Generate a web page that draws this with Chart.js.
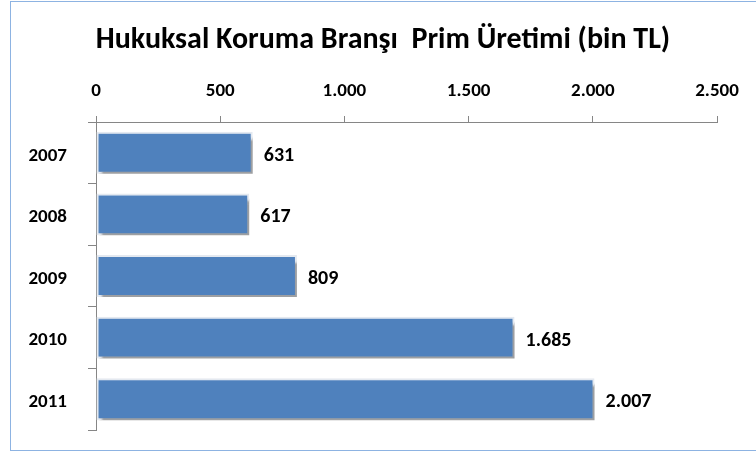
<!DOCTYPE html>
<html>
<head>
<meta charset="utf-8">
<script src="https://cdn.jsdelivr.net/npm/chart.js@4/dist/chart.umd.min.js"></script>
<style>
  html, body { margin: 0; padding: 0; background: #fff; overflow: hidden; }
  #wrap { position: relative; width: 756px; height: 454px; }
  #frame { position: absolute; left: 10px; top: 1px; width: 760px; height: 450px;
           border: 1px solid #8db3e2; box-sizing: border-box; }
  #chart { position: absolute; left: 0; top: 0; }
</style>
</head>
<body>
<div id="wrap">
  <div id="frame"></div>
  <canvas id="chart" width="756" height="454"></canvas>
</div>
<script>
// Hukuksal Koruma branşı prim üretimi, bin TL
const yillar = ['2007', '2008', '2009', '2010', '2011'];
const primUretimi = [631, 617, 809, 1685, 2007];
const eksenMin = 0;
const eksenMax = 2500;
const eksenAdim = 500;

const baslik = 'Hukuksal Koruma Branşı  Prim Üretimi (bin TL)';
const yazi = "Carlito, 'Liberation Sans Narrow', 'Open Sans', sans-serif";

// 1234 -> "1.234"
function binlik(v) {
    return String(Math.round(v)).replace(/\B(?=(\d{3})+(?!\d))/g, '.');
}

// Başlık
const baslikPlugin = {
    id: 'baslik',
    afterDraw(chart) {
        const ctx = chart.ctx;
        ctx.save();
        ctx.font = 'bold 30px ' + yazi;
        ctx.fillStyle = '#000';
        ctx.textAlign = 'center';
        ctx.textBaseline = 'middle';
        ctx.fillText(baslik, 383, 40);
        ctx.restore();
    }
};

// Çubuklara gölge ver, sonra değerleri yaz
const cubukPlugin = {
    id: 'cubuk',
    beforeDatasetsDraw(chart) {
        const ctx = chart.ctx;
        ctx.save();
        ctx.shadowColor = 'rgba(110, 110, 110, 0.6)';
        ctx.shadowOffsetX = 3;
        ctx.shadowOffsetY = 6;
        ctx.shadowBlur = 2;
    },
    afterDatasetsDraw(chart) {
        const ctx = chart.ctx;
        ctx.restore();
        const meta = chart.getDatasetMeta(0);
        ctx.save();
        ctx.font = 'bold 20px ' + yazi;
        ctx.fillStyle = '#000';
        ctx.textAlign = 'left';
        ctx.textBaseline = 'middle';
        meta.data.forEach((bar, i) => {
            ctx.fillText(binlik(primUretimi[i]), bar.x + 11, bar.y + 3);
        });
        ctx.restore();
    }
};

new Chart(document.getElementById('chart'), {
    type: 'bar',
    data: {
        labels: yillar,
        datasets: [{
            data: primUretimi,
            backgroundColor: '#4f81bd',
            borderColor: '#e4e9f0',
            borderWidth: 2,
            borderSkipped: false,
            barPercentage: 0.68,
            categoryPercentage: 1
        }]
    },
    options: {
        indexAxis: 'y',
        responsive: false,
        animation: false,
        layout: { padding: { left: 0, top: 0, right: 39, bottom: 24 } },
        plugins: {
            legend: { display: false },
            title: { display: false },
            tooltip: { enabled: false }
        },
        scales: {
            x: {
                position: 'top',
                min: eksenMin,
                max: eksenMax,
                afterFit(scale) { scale.height = 122; },
                ticks: {
                    stepSize: eksenAdim,
                    padding: 13,
                    color: '#000',
                    font: { family: yazi, size: 19, weight: 'bold' },
                    callback: v => binlik(v)
                },
                grid: { drawOnChartArea: false, tickLength: 6, color: '#868686' },
                border: { color: '#868686', width: 1 }
            },
            y: {
                afterFit(scale) {
                    scale.width = 96;
                    scale.paddingTop = 0;
                    scale.paddingBottom = 0;
                },
                ticks: {
                    padding: 21,
                    labelOffset: 3,
                    color: '#000',
                    font: { family: yazi, size: 19, weight: 'bold' }
                },
                grid: { drawOnChartArea: false, tickLength: 8, offset: true, color: '#868686' },
                border: { color: '#868686', width: 1 }
            }
        }
    },
    plugins: [baslikPlugin, cubukPlugin]
});
</script>
</body>
</html>
